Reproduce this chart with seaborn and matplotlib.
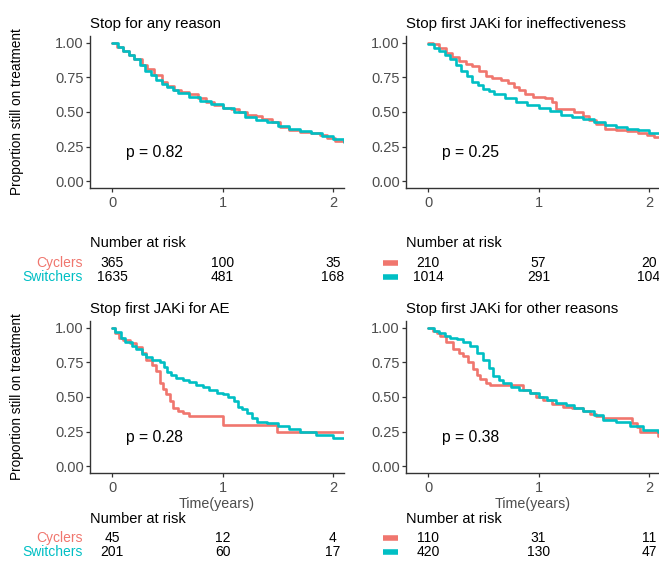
import numpy as np
import pandas as pd
import matplotlib
matplotlib.use("Agg")
import matplotlib.pyplot as plt
import matplotlib.transforms as mtransforms
import seaborn as sns

# ---- data ----
titles = ["Stop for any reason", "Stop first JAKi for ineffectiveness",
          "Stop first JAKi for AE", "Stop first JAKi for other reasons"]
pvals = ["p = 0.82", "p = 0.25", "p = 0.28", "p = 0.38"]
groups = ["Cyclers", "Switchers"]
risk_times = [0, 1, 2]

# any reason
any_sw_t = [0, .05, .1, .15, .2, .25, .3, .35, .4, .45, .5, .55, .6, .7, .8, .9, 1.0,
            1.1, 1.2, 1.3, 1.4, 1.5, 1.6, 1.7, 1.8, 1.9, 2.0, 2.1]
any_sw_s = [1.0, .97, .94, .91, .88, .84, .80, .77, .73, .70, .68, .66, .64, .61, .58, .555,
            .53, .50, .465, .445, .425, .40, .375, .36, .345, .325, .305, .28]
any_cy_t = [0, .04, .1, .15, .2, .27, .32, .38, .45, .5, .56, .62, .7, .78, .85, .92, 1.0,
            1.08, 1.15, 1.22, 1.3, 1.36, 1.45, 1.52, 1.6, 1.7, 1.8, 1.88, 1.95, 2.02, 2.1]
any_cy_s = [1.0, .97, .94, .91, .88, .84, .81, .77, .72, .69, .66, .645, .63, .60, .57, .55,
            .53, .52, .50, .475, .47, .45, .43, .39, .37, .355, .345, .33, .31, .29, .28]

# ineffectiveness
ineff_sw_t = [0, .05, .1, .15, .2, .25, .3, .35, .4, .45, .5, .55, .6, .7, .8, .9, 1.0,
              1.1, 1.2, 1.3, 1.4, 1.5, 1.6, 1.7, 1.8, 1.9, 2.0, 2.1]
ineff_sw_s = [.99, .965, .94, .91, .88, .84, .80, .76, .72, .695, .67, .65, .63, .60, .575,
              .55, .53, .505, .48, .465, .45, .43, .405, .39, .38, .37, .35, .32]
ineff_cy_t = [0, .04, .1, .16, .22, .28, .34, .4, .46, .52, .58, .66, .72, .78, .82, .88,
              .95, 1.06, 1.12, 1.16, 1.25, 1.32, 1.4, 1.46, 1.52, 1.6, 1.7, 1.8, 1.9,
              1.98, 2.05, 2.1]
ineff_cy_s = [1.0, .99, .96, .93, .90, .87, .85, .83, .80, .76, .745, .735, .71, .68, .66,
              .63, .61, .60, .575, .52, .52, .50, .47, .44, .41, .38, .37, .36, .35,
              .33, .32, .32]

# adverse events
ae_sw_t = [0, .03, .08, .12, .18, .22, .27, .31, .36, .43, .47, .50, .53, .58, .64, .70,
           .76, .82, .88, .95, 1.0, 1.05, 1.1, 1.14, 1.18, 1.22, 1.27, 1.31, 1.4, 1.5,
           1.6, 1.7, 1.8, 1.85, 2.0, 2.1]
ae_sw_s = [1.0, .97, .93, .90, .87, .85, .81, .79, .77, .75, .72, .68, .66, .64, .62, .61,
           .59, .57, .55, .53, .52, .50, .47, .43, .41, .385, .35, .32, .31, .29,
           .27, .25, .25, .225, .20, .20]
ae_cy_t = [0, .03, .06, .1, .16, .22, .27, .31, .36, .40, .43, .46, .49, .52, .55, .6,
           .64, .70, 1.0, 1.49, 2.1]
ae_cy_s = [1.0, .96, .93, .91, .89, .86, .82, .77, .73, .69, .60, .56, .52, .47, .42, .40,
           .385, .36, .30, .25, .25]

# other reasons
oth_sw_t = [0, .05, .1, .15, .2, .26, .32, .38, .44, .5, .55, .59, .64, .68, .75, .82, .92,
            1.0, 1.08, 1.16, 1.25, 1.32, 1.4, 1.5, 1.58, 1.7, 1.83, 1.95, 2.08, 2.1]
oth_sw_s = [1.0, .98, .96, .94, .93, .92, .90, .87, .82, .77, .71, .65, .62, .60, .575, .55,
            .53, .50, .48, .46, .44, .42, .40, .37, .335, .32, .29, .26, .25, .25]
oth_cy_t = [0, .04, .08, .11, .16, .23, .28, .32, .36, .41, .44, .47, .52, .56, .80, .86,
            .92, .98, 1.04, 1.12, 1.22, 1.3, 1.4, 1.47, 1.52, 1.58, 1.78, 1.85, 1.89,
            1.92, 2.08, 2.1]
oth_cy_s = [1.0, .98, .96, .94, .90, .85, .82, .80, .75, .70, .66, .63, .60, .585, .585, .55,
            .53, .50, .48, .45, .43, .42, .40, .38, .36, .345, .345, .31, .28,
            .25, .22, .22]

# numbers at risk at t = 0, 1, 2
risk_cyclers = [[365, 100, 35], [210, 57, 20], [45, 12, 4], [110, 31, 11]]
risk_switchers = [[1635, 481, 168], [1014, 291, 104], [201, 60, 17], [420, 130, 47]]

curves = [
    ((any_cy_t, any_cy_s), (any_sw_t, any_sw_s)),
    ((ineff_cy_t, ineff_cy_s), (ineff_sw_t, ineff_sw_s)),
    ((ae_cy_t, ae_cy_s), (ae_sw_t, ae_sw_s)),
    ((oth_cy_t, oth_cy_s), (oth_sw_t, oth_sw_s)),
]

rows = []
for i, pair in enumerate(curves):
    for g, (tt, ss) in zip(groups, pair):
        for a, b in zip(tt, ss):
            rows.append({"panel": i, "group": g, "time": a, "surv": b})
df = pd.DataFrame(rows)

# ---- plotting ----
sns.set_theme(style="white")
plt.rcParams["font.family"] = ["Liberation Sans", "DejaVu Sans"]

red = "#F0766E"
teal = "#00BFC4"
palette = {"Cyclers": red, "Switchers": teal}
axis_col = "#333333"
tick_col = "#4D4D4D"

W, H = 659, 566
fig = plt.figure(figsize=(W / 100, H / 100), dpi=100)

# panel frames in pixels: (left, top, right, bottom)
frames = [(90, 36, 344, 188), (406, 36, 660, 188),
          (90, 321, 344, 473), (406, 321, 660, 473)]
table_rows = [(243, 263, 277), (243, 263, 277), (519, 538, 552), (519, 538, 552)]

for i, (l, t, r, b) in enumerate(frames):
    ax = fig.add_axes([l / W, 1 - b / H, (r - l) / W, (b - t) / H])
    sub = df[df["panel"] == i]
    sns.lineplot(data=sub, x="time", y="surv", hue="group", palette=palette,
                 drawstyle="steps-post", linewidth=1.9, estimator=None,
                 legend=False, ax=ax)
    ax.set_xlim(-0.2, 2.1)
    ax.set_ylim(-0.05, 1.05)
    ax.set_xticks([0, 1, 2])
    ax.set_xticklabels(["0", "1", "2"])
    ax.set_yticks([0, 0.25, 0.5, 0.75, 1.0])
    ax.set_yticklabels(["0.00", "0.25", "0.50", "0.75", "1.00"])
    for s in ["top", "right"]:
        ax.spines[s].set_visible(False)
    for s in ["left", "bottom"]:
        ax.spines[s].set_color(axis_col)
        ax.spines[s].set_linewidth(1.0)
    ax.tick_params(axis="both", which="major", direction="out", length=3,
                   width=0.9, color=axis_col, labelsize=10.5, labelcolor=tick_col,
                   pad=1.5, bottom=True, left=True)
    ax.tick_params(axis="x", pad=3)
    ax.set_title(titles[i], loc="left", fontsize=10.8, color="black", pad=6)
    ax.text(0.13, 0.21, pvals[i], fontsize=11.3, ha="left", va="center",
            color="black")
    if i % 2 == 0:
        ax.set_ylabel("Proportion still on treatment", fontsize=9.8, color="black",
                      labelpad=22)
    else:
        ax.set_ylabel("")
    if i >= 2:
        ax.set_xlabel("Time(years)", fontsize=10.3, color=tick_col, labelpad=1)
    else:
        ax.set_xlabel("")

    # number at risk table under each panel
    tr = mtransforms.blended_transform_factory(ax.transData, fig.transFigure)
    y_head, y_cy, y_sw = [1 - v / H for v in table_rows[i]]
    ax.text(-0.2, y_head, "Number at risk", transform=tr, fontsize=10.5,
            ha="left", va="center", color="black", clip_on=False)
    for k, tm in enumerate(risk_times):
        ax.text(tm, y_cy, str(risk_cyclers[i][k]), transform=tr, fontsize=10,
                ha="center", va="center", color="black", clip_on=False)
        ax.text(tm, y_sw, str(risk_switchers[i][k]), transform=tr, fontsize=10,
                ha="center", va="center", color="black", clip_on=False)
    if i % 2 == 0:
        ax.text(-0.265, y_cy, groups[0], transform=tr, fontsize=10, ha="right",
                va="center", color=red, clip_on=False)
        ax.text(-0.265, y_sw, groups[1], transform=tr, fontsize=10, ha="right",
                va="center", color=teal, clip_on=False)
    else:
        ax.plot([-0.41, -0.27], [y_cy, y_cy], transform=tr, color=red, lw=4,
                solid_capstyle="butt", clip_on=False)
        ax.plot([-0.41, -0.27], [y_sw, y_sw], transform=tr, color=teal, lw=4,
                solid_capstyle="butt", clip_on=False)

fig.savefig("out.png", dpi=100)
